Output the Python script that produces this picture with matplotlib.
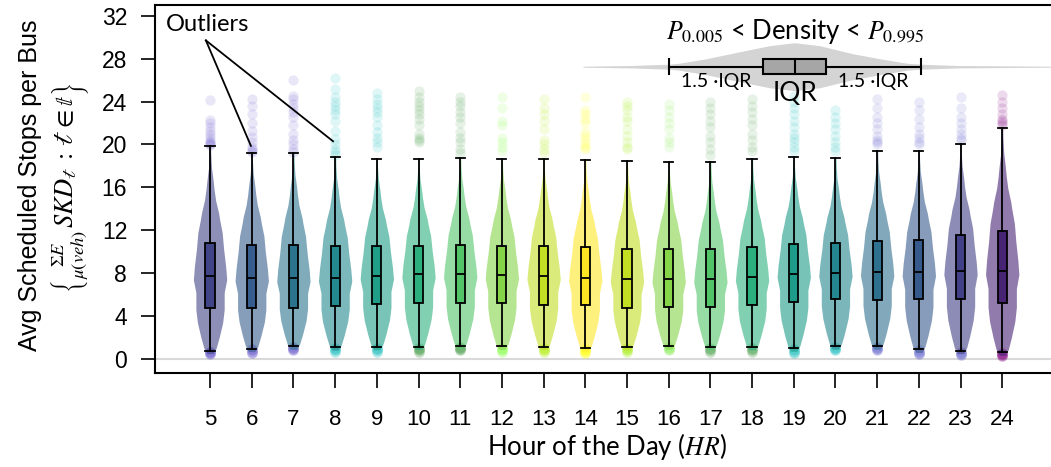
import numpy as np
import matplotlib
matplotlib.use("Agg")
import matplotlib.pyplot as plt

plt.rcParams['font.family'] = ['Lato', 'DejaVu Sans']
plt.rcParams['mathtext.fontset'] = 'stix'
arial = ['Liberation Sans', 'DejaVu Sans']

# valeurs
hours = list(range(5, 25))
q1 = [4.75, 4.8, 4.8, 4.9, 5.1, 5.2, 5.2, 5.2, 5.07, 5.0,
      4.8, 4.85, 4.88, 5.0, 5.3, 5.56, 5.5, 5.56, 5.6, 5.2]
med = [7.74, 7.6, 7.55, 7.58, 7.77, 7.93, 7.93, 7.8, 7.74, 7.6,
       7.46, 7.46, 7.46, 7.62, 7.96, 8.05, 8.1, 8.1, 8.24, 8.24]
q3 = [10.8, 10.6, 10.6, 10.5, 10.5, 10.55, 10.6, 10.55, 10.5, 10.45,
      10.26, 10.26, 10.23, 10.42, 10.7, 10.8, 11.04, 11.07, 11.6, 11.9]
whis_lo = [0.78, 0.97, 1.18, 1.1, 1.15, 1.15, 1.25, 1.18, 1.15, 1.03,
           1.09, 1.2, 1.12, 1.12, 1.0, 1.2, 1.2, 0.9, 0.78, 0.62]
whis_hi = [19.9, 19.25, 19.2, 18.8, 18.65, 18.6, 18.75, 18.65, 18.65, 18.56,
           18.43, 18.4, 18.37, 18.6, 18.8, 18.7, 19.4, 19.4, 20.06, 21.5]

# outliers hauts / bas par heure
outliers_hi = [
    [19.95, 20.0, 20.1, 20.2, 20.4, 20.7, 21.0, 21.3, 21.6, 22.0, 22.3, 24.1],
    [19.3, 19.4, 19.6, 19.8, 20.2, 20.7, 21.3, 22.0, 22.8, 23.6, 24.2],
    [19.3, 19.6, 20.0, 20.4, 21.0, 21.8, 22.6, 23.0, 23.4, 23.8, 24.2, 24.5, 26.0],
    [19.0, 19.3, 19.6, 20.0, 20.5, 21.3, 22.2, 22.8, 23.2, 23.6, 24.0, 24.4, 25.2, 26.2],
    [19.8, 20.2, 20.6, 21.2, 21.8, 22.6, 23.0, 23.4, 23.8, 24.2, 24.8],
    [20.2, 20.4, 20.6, 21.0, 21.8, 22.4, 22.8, 23.2, 23.6, 24.0, 24.4, 25.0],
    [19.2, 19.6, 20.2, 20.6, 21.2, 22.0, 22.6, 23.0, 23.6, 24.0, 24.4],
    [19.4, 19.8, 20.2, 20.6, 21.8, 22.2, 23.4, 24.4],
    [19.2, 19.6, 20.0, 20.4, 21.4, 22.2, 22.8, 23.4, 24.2],
    [19.6, 19.8, 20.0, 20.4, 20.8, 21.2, 22.0, 22.4, 22.8, 23.2, 24.4],
    [19.6, 19.8, 20.2, 20.8, 21.4, 22.2, 22.6, 23.2, 23.6, 24.0],
    [19.8, 20.2, 20.6, 21.4, 22.0, 22.6, 23.2, 23.8],
    [19.0, 19.6, 20.2, 20.8, 21.6, 22.2, 22.8, 23.4, 24.0],
    [19.4, 19.8, 20.4, 21.0, 21.8, 22.4, 23.0, 23.6, 24.2],
    [19.4, 19.8, 20.2, 20.6, 21.0, 21.6, 22.2, 22.8, 23.4, 24.0, 24.5],
    [19.4, 19.8, 20.2, 20.8, 21.4, 22.0, 22.6, 23.2],
    [20.0, 20.2, 20.4, 20.8, 21.4, 22.0, 22.6, 23.4, 24.2],
    [20.0, 20.2, 20.6, 21.0, 21.6, 22.4, 23.2, 24.0],
    [20.4, 20.6, 21.0, 21.4, 22.0, 22.6, 23.4, 24.4],
    [21.8, 22.0, 22.2, 22.4, 22.8, 23.4, 24.0, 24.6],
]
outliers_lo = [
    [0.5, 0.6, 0.65, 0.7], [0.6, 0.7, 0.8, 0.9], [0.8, 0.9, 1.0, 1.1], [0.7, 0.8, 0.9, 1.0],
    [0.7, 0.8, 0.9, 1.0], [0.7, 0.8, 0.9, 1.0], [0.8, 0.9, 1.0, 1.1], [0.7, 0.8, 0.9, 1.0],
    [0.7, 0.8, 0.9, 1.0], [0.6, 0.7, 0.8, 0.9], [0.7, 0.8, 0.9, 1.0], [0.8, 0.9, 1.0, 1.1],
    [0.7, 0.8, 0.9, 1.0], [0.7, 0.8, 0.9, 1.0], [0.6, 0.7, 0.8, 0.9], [0.8, 0.9, 1.0, 1.1],
    [0.8, 0.9, 1.0, 1.1], [0.5, 0.6, 0.7, 0.8], [0.4, 0.5, 0.6, 0.7], [0.3, 0.4, 0.5, 0.55],
]
outlier_colors = ['#6a5acd', '#6a5acd', '#6a5acd', '#20c0c0', '#20c0c0',
                  '#4c9e4c', '#4c9e4c', '#8cff50', '#b4f014', '#ffff00',
                  '#a8f020', '#90f060', '#5aa85a', '#5aa85a', '#20c0c0',
                  '#20c0c0', '#6a6ad0', '#6a6ad0', '#6a6ad0', '#800080']
# position dans viridis pour chaque heure
cmap_pos = [0.20, 0.29, 0.38, 0.47, 0.56, 0.64, 0.73, 0.82, 0.91, 1.00,
            0.91, 0.82, 0.73, 0.64, 0.55, 0.46, 0.37, 0.28, 0.19, 0.10]

# profil du violon (heure 5) : valeur / largeur relative
violin_y = [0.5, 1.0, 2.0, 3.4, 4.6, 6.2, 7.4, 8.6, 10.2, 11.8, 13.0, 13.6,
            14.8, 15.8, 16.7, 17.8, 19.0, 20.0]
violin_w = [6, 12, 18, 25, 28, 28, 33, 31, 27, 24, 19, 17, 11, 8, 6, 3, 1.5, 1]

# schema de legende (unites d'IQR)
leg_x = [-3.36, -2.6, -2.0, -1.83, -1.4, -0.87, -0.4, 0.0, 0.4, 0.92, 1.35, 1.78, 2.0, 2.6, 4.07]
leg_h = [0.5, 1.2, 2.5, 3.5, 8, 15, 21, 24, 21, 13, 8, 3.5, 2.5, 1.2, 0.5]

W, H = 1051, 467
fig = plt.figure(figsize=(W / 100, H / 100), dpi=100)
ax = fig.add_axes([155 / W, 1 - 373 / H, 1 - 155 / W, 368 / H])

cmap = plt.get_cmap('viridis')
box_colors = [cmap(p) for p in cmap_pos]

vy = np.array(violin_y)
vw = np.array(violin_w) / max(violin_w) * 0.4
for i, h in enumerate(hours):
    # recale le profil sur les moustaches / mediane de l'heure
    yy = np.interp(vy, [vy[0], 7.74, vy[-1]], [whis_lo[i] - 0.28, med[i], whis_hi[i] + 0.1])
    ax.fill_betweenx(yy, h - vw, h + vw, color=box_colors[i], alpha=0.6, lw=0, zorder=2)
    ax.scatter([h] * len(outliers_hi[i]), outliers_hi[i], s=55, color=outlier_colors[i],
               alpha=0.14, lw=0, zorder=1.5)
    ax.scatter([h] * len(outliers_lo[i]), outliers_lo[i], s=60, color=outlier_colors[i],
               alpha=0.3, lw=0, zorder=1.5)

stats = [dict(med=med[i], q1=q1[i], q3=q3[i], whislo=whis_lo[i], whishi=whis_hi[i], fliers=[])
         for i in range(len(hours))]
lp = dict(color='black', lw=1.3)
bp = ax.bxp(stats, positions=hours, widths=0.22, capwidths=0.22, patch_artist=True,
            showfliers=False, boxprops=dict(edgecolor='black', lw=1.3),
            medianprops=lp, whiskerprops=lp, capprops=lp, zorder=3)
for patch, c in zip(bp['boxes'], box_colors):
    patch.set_facecolor(c)

ax.axhline(0, color='#d9d9d9', lw=1.5, zorder=0)

ax.set_xlim(3.68, 25.17)
ax.set_ylim(-1.3, 33)
ax.set_yticks(range(0, 33, 4))
ax.set_yticklabels([str(v) for v in range(0, 33, 4)], fontsize=16.5, family=arial)
ax.set_xticks(hours)
ax.set_xticklabels([str(h) for h in hours], fontsize=16, family=arial)
ax.tick_params(axis='y', length=10, width=1.2, pad=10)
ax.tick_params(axis='x', length=11, width=1.2, pad=15)
for s in ['left', 'bottom', 'top']:
    ax.spines[s].set_linewidth(1.5)
ax.spines['right'].set_visible(False)

# annotation outliers
ax.text(4.95, 31.2, 'Outliers', fontsize=17, ha='center', va='center')
ax.plot([4.9, 5.98], [29.7, 19.87], color='black', lw=1.3, zorder=4)
ax.plot([4.9, 7.95], [29.7, 20.3], color='black', lw=1.3, zorder=4)

fig.text(607 / W, 1 - 447 / H, 'Hour of the Day ($HR$)', fontsize=18.5, ha='center', va='center')
fig.text(30 / W, 1 - 185 / H, 'Avg Scheduled Stops per Bus', fontsize=18, family=arial,
         rotation=90, ha='center', va='center')
fig.text(70 / W, 1 - 188 / H,
         r'$\left\{\genfrac{}{}{0}{}{\Sigma E}{\mu(veh)}SKD_{\mathscr{t}}\,:\,\mathscr{t}\in\mathbb{t}\right\}$',
         fontsize=19, rotation=90, ha='center', va='center')

# encart legende
lax = fig.add_axes([583 / W, 1 - 110 / H, 468 / W, 90 / H])
lax.set_xlim(-3.36, 4.07)
lax.set_ylim(-0.687, 0.741)
lax.axis('off')
lh = np.array(leg_h) / 63
lax.fill_between(leg_x, -lh, lh, color='#d4d4d4', lw=0)
lax.add_patch(plt.Rectangle((-0.5, -0.119), 1.0, 0.238, facecolor='#a6a6a6',
                            edgecolor='black', lw=1.5, zorder=3))
lax.plot([0, 0], [-0.119, 0.119], color='black', lw=1.5, zorder=4)
lax.plot([-2, -0.5], [0, 0], color='black', lw=1.5)
lax.plot([0.5, 2], [0, 0], color='black', lw=1.5)
lax.plot([-2, -2], [-0.119, 0.119], color='black', lw=1.5)
lax.plot([2, 2], [-0.119, 0.119], color='black', lw=1.5)
lax.text(0, 0.556, r'$P_{0.005}$ < Density < $P_{0.995}$', fontsize=18.5, ha='center', va='center')
lax.text(-1.24, -0.238, '1.5 ·IQR', fontsize=14, ha='center', va='center')
lax.text(1.24, -0.238, '1.5 ·IQR', fontsize=14, ha='center', va='center')
lax.text(0, -0.425, 'IQR', fontsize=19, ha='center', va='center')

fig.savefig('out.png', dpi=100)
